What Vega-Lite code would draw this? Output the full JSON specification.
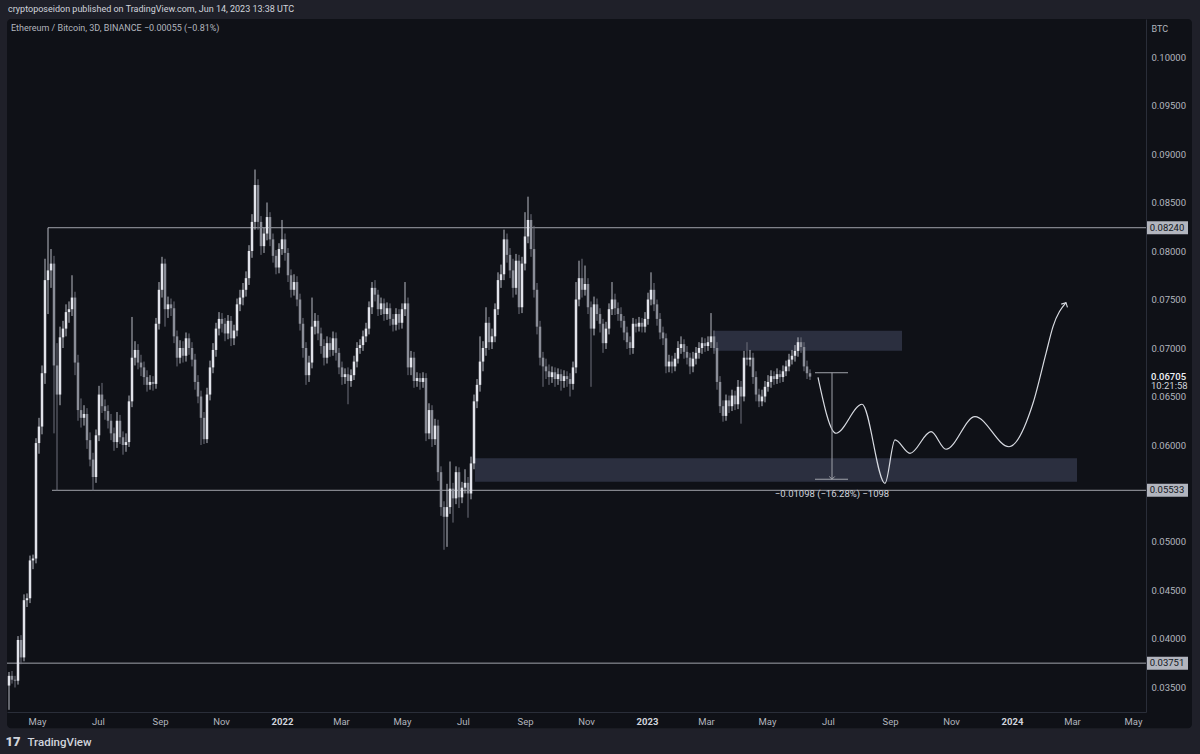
{
"$schema": "https://vega.github.io/schema/vega-lite/v6.json",
"width": 1139,
"height": 693,
"autosize": {"type": "none"},
"padding": {"left": 7, "top": 19, "right": 54, "bottom": 42},
"background": "#1f2029",
"config": {
  "font": "Roboto",
  "view": {"stroke": null},
  "axis": {"grid": false, "ticks": false, "domainColor": "#2a2e39", "domainWidth": 1, "labelColor": "#b2b5be", "labelFontSize": 9.5, "labelFont": "Roboto", "zindex": 1}
},
"title": {
  "text": "cryptoposeidon published on TradingView.com, Jun 14, 2023 13:38 UTC",
  "anchor": "start", "frame": "group", "offset": 5, "dx": 1,
  "fontSize": 9, "fontWeight": "normal", "color": "#d1d4dc"
},
"datasets": {
  "candles": [
{"d":"2021-04-03","o":0.0352,"h":0.0366,"l":0.0327,"c":0.0362},
{"d":"2021-04-06","o":0.0362,"h":0.0367,"l":0.0354,"c":0.0358},
{"d":"2021-04-09","o":0.0358,"h":0.0362,"l":0.0350,"c":0.0357},
{"d":"2021-04-12","o":0.0357,"h":0.0403,"l":0.0353,"c":0.0399},
{"d":"2021-04-15","o":0.0399,"h":0.0404,"l":0.0374,"c":0.0381},
{"d":"2021-04-18","o":0.0381,"h":0.0446,"l":0.0377,"c":0.0440},
{"d":"2021-04-21","o":0.0440,"h":0.0447,"l":0.0433,"c":0.0442},
{"d":"2021-04-24","o":0.0442,"h":0.0486,"l":0.0437,"c":0.0481},
{"d":"2021-04-27","o":0.0481,"h":0.0487,"l":0.0472,"c":0.0483},
{"d":"2021-04-30","o":0.0483,"h":0.0607,"l":0.0478,"c":0.0602},
{"d":"2021-05-03","o":0.0602,"h":0.0628,"l":0.0591,"c":0.0619},
{"d":"2021-05-06","o":0.0619,"h":0.0682,"l":0.0611,"c":0.0674},
{"d":"2021-05-09","o":0.0674,"h":0.0792,"l":0.0663,"c":0.0770},
{"d":"2021-05-12","o":0.0770,"h":0.0824,"l":0.0735,"c":0.0780},
{"d":"2021-05-15","o":0.0780,"h":0.0802,"l":0.0762,"c":0.0787},
{"d":"2021-05-18","o":0.0787,"h":0.0795,"l":0.0612,"c":0.0682},
{"d":"2021-05-21","o":0.0682,"h":0.0705,"l":0.0553,"c":0.0652},
{"d":"2021-05-24","o":0.0652,"h":0.0722,"l":0.0641,"c":0.0711},
{"d":"2021-05-27","o":0.0711,"h":0.0728,"l":0.0700,"c":0.0720},
{"d":"2021-05-30","o":0.0720,"h":0.0745,"l":0.0712,"c":0.0737},
{"d":"2021-06-02","o":0.0737,"h":0.0748,"l":0.0726,"c":0.0740},
{"d":"2021-06-05","o":0.0740,"h":0.0775,"l":0.0733,"c":0.0752},
{"d":"2021-06-08","o":0.0752,"h":0.0758,"l":0.0672,"c":0.0685},
{"d":"2021-06-11","o":0.0685,"h":0.0693,"l":0.0625,"c":0.0636},
{"d":"2021-06-14","o":0.0636,"h":0.0648,"l":0.0618,"c":0.0628},
{"d":"2021-06-17","o":0.0628,"h":0.0641,"l":0.0620,"c":0.0632},
{"d":"2021-06-20","o":0.0632,"h":0.0638,"l":0.0596,"c":0.0605},
{"d":"2021-06-23","o":0.0605,"h":0.0613,"l":0.0578,"c":0.0585},
{"d":"2021-06-26","o":0.0585,"h":0.0592,"l":0.0553,"c":0.0567},
{"d":"2021-06-29","o":0.0567,"h":0.0616,"l":0.0561,"c":0.0610},
{"d":"2021-07-02","o":0.0610,"h":0.0661,"l":0.0604,"c":0.0652},
{"d":"2021-07-05","o":0.0652,"h":0.0664,"l":0.0633,"c":0.0640},
{"d":"2021-07-08","o":0.0640,"h":0.0647,"l":0.0626,"c":0.0635},
{"d":"2021-07-11","o":0.0635,"h":0.0641,"l":0.0617,"c":0.0625},
{"d":"2021-07-14","o":0.0625,"h":0.0632,"l":0.0605,"c":0.0612},
{"d":"2021-07-17","o":0.0612,"h":0.0618,"l":0.0594,"c":0.0603},
{"d":"2021-07-20","o":0.0603,"h":0.0634,"l":0.0597,"c":0.0625},
{"d":"2021-07-23","o":0.0625,"h":0.0631,"l":0.0601,"c":0.0608},
{"d":"2021-07-26","o":0.0608,"h":0.0614,"l":0.0590,"c":0.0600},
{"d":"2021-07-29","o":0.0600,"h":0.0612,"l":0.0593,"c":0.0603},
{"d":"2021-08-01","o":0.0603,"h":0.0651,"l":0.0598,"c":0.0645},
{"d":"2021-08-04","o":0.0645,"h":0.0732,"l":0.0639,"c":0.0690},
{"d":"2021-08-07","o":0.0690,"h":0.0707,"l":0.0682,"c":0.0698},
{"d":"2021-08-10","o":0.0698,"h":0.0704,"l":0.0678,"c":0.0685},
{"d":"2021-08-13","o":0.0685,"h":0.0693,"l":0.0671,"c":0.0680},
{"d":"2021-08-16","o":0.0680,"h":0.0686,"l":0.0662,"c":0.0670},
{"d":"2021-08-19","o":0.0670,"h":0.0677,"l":0.0655,"c":0.0662},
{"d":"2021-08-22","o":0.0662,"h":0.0672,"l":0.0657,"c":0.0665},
{"d":"2021-08-25","o":0.0665,"h":0.0671,"l":0.0656,"c":0.0663},
{"d":"2021-08-28","o":0.0663,"h":0.0731,"l":0.0658,"c":0.0725},
{"d":"2021-08-31","o":0.0725,"h":0.0768,"l":0.0719,"c":0.0760},
{"d":"2021-09-03","o":0.0760,"h":0.0794,"l":0.0752,"c":0.0787},
{"d":"2021-09-06","o":0.0787,"h":0.0792,"l":0.0722,"c":0.0740},
{"d":"2021-09-09","o":0.0740,"h":0.0753,"l":0.0731,"c":0.0745},
{"d":"2021-09-12","o":0.0745,"h":0.0751,"l":0.0733,"c":0.0741},
{"d":"2021-09-15","o":0.0741,"h":0.0748,"l":0.0705,"c":0.0712},
{"d":"2021-09-18","o":0.0712,"h":0.0718,"l":0.0681,"c":0.0690},
{"d":"2021-09-21","o":0.0690,"h":0.0708,"l":0.0684,"c":0.0700},
{"d":"2021-09-24","o":0.0700,"h":0.0707,"l":0.0685,"c":0.0692},
{"d":"2021-09-27","o":0.0692,"h":0.0716,"l":0.0686,"c":0.0710},
{"d":"2021-09-30","o":0.0710,"h":0.0715,"l":0.0693,"c":0.0700},
{"d":"2021-10-03","o":0.0700,"h":0.0706,"l":0.0681,"c":0.0688},
{"d":"2021-10-06","o":0.0688,"h":0.0694,"l":0.0657,"c":0.0665},
{"d":"2021-10-09","o":0.0665,"h":0.0672,"l":0.0643,"c":0.0650},
{"d":"2021-10-12","o":0.0650,"h":0.0656,"l":0.0600,"c":0.0628},
{"d":"2021-10-15","o":0.0628,"h":0.0634,"l":0.0601,"c":0.0606},
{"d":"2021-10-18","o":0.0606,"h":0.0659,"l":0.0602,"c":0.0652},
{"d":"2021-10-21","o":0.0652,"h":0.0687,"l":0.0646,"c":0.0680},
{"d":"2021-10-24","o":0.0680,"h":0.0705,"l":0.0674,"c":0.0698},
{"d":"2021-10-27","o":0.0698,"h":0.0726,"l":0.0691,"c":0.0720},
{"d":"2021-10-30","o":0.0720,"h":0.0737,"l":0.0713,"c":0.0730},
{"d":"2021-11-02","o":0.0730,"h":0.0736,"l":0.0716,"c":0.0725},
{"d":"2021-11-05","o":0.0725,"h":0.0731,"l":0.0707,"c":0.0715},
{"d":"2021-11-08","o":0.0715,"h":0.0734,"l":0.0709,"c":0.0728},
{"d":"2021-11-11","o":0.0728,"h":0.0733,"l":0.0702,"c":0.0710},
{"d":"2021-11-14","o":0.0710,"h":0.0724,"l":0.0703,"c":0.0718},
{"d":"2021-11-17","o":0.0718,"h":0.0751,"l":0.0712,"c":0.0745},
{"d":"2021-11-20","o":0.0745,"h":0.0760,"l":0.0738,"c":0.0752},
{"d":"2021-11-23","o":0.0752,"h":0.0767,"l":0.0744,"c":0.0760},
{"d":"2021-11-26","o":0.0760,"h":0.0779,"l":0.0753,"c":0.0772},
{"d":"2021-11-29","o":0.0772,"h":0.0806,"l":0.0765,"c":0.0800},
{"d":"2021-12-02","o":0.0800,"h":0.0838,"l":0.0793,"c":0.0830},
{"d":"2021-12-05","o":0.0830,"h":0.0884,"l":0.0822,"c":0.0868},
{"d":"2021-12-08","o":0.0868,"h":0.0874,"l":0.0822,"c":0.0830},
{"d":"2021-12-11","o":0.0830,"h":0.0836,"l":0.0796,"c":0.0805},
{"d":"2021-12-14","o":0.0805,"h":0.0824,"l":0.0798,"c":0.0818},
{"d":"2021-12-17","o":0.0818,"h":0.0850,"l":0.0811,"c":0.0835},
{"d":"2021-12-20","o":0.0835,"h":0.0840,"l":0.0805,"c":0.0812},
{"d":"2021-12-23","o":0.0812,"h":0.0818,"l":0.0788,"c":0.0795},
{"d":"2021-12-26","o":0.0795,"h":0.0801,"l":0.0776,"c":0.0783},
{"d":"2021-12-29","o":0.0783,"h":0.0808,"l":0.0777,"c":0.0802},
{"d":"2022-01-01","o":0.0802,"h":0.0832,"l":0.0796,"c":0.0812},
{"d":"2022-01-04","o":0.0812,"h":0.0818,"l":0.0790,"c":0.0798},
{"d":"2022-01-07","o":0.0798,"h":0.0803,"l":0.0768,"c":0.0775},
{"d":"2022-01-10","o":0.0775,"h":0.0781,"l":0.0752,"c":0.0760},
{"d":"2022-01-13","o":0.0760,"h":0.0776,"l":0.0754,"c":0.0768},
{"d":"2022-01-16","o":0.0768,"h":0.0774,"l":0.0743,"c":0.0750},
{"d":"2022-01-19","o":0.0750,"h":0.0756,"l":0.0718,"c":0.0725},
{"d":"2022-01-22","o":0.0725,"h":0.0731,"l":0.0690,"c":0.0700},
{"d":"2022-01-25","o":0.0700,"h":0.0706,"l":0.0662,"c":0.0672},
{"d":"2022-01-28","o":0.0672,"h":0.0692,"l":0.0665,"c":0.0685},
{"d":"2022-01-31","o":0.0685,"h":0.0752,"l":0.0679,"c":0.0722},
{"d":"2022-02-03","o":0.0722,"h":0.0736,"l":0.0714,"c":0.0728},
{"d":"2022-02-06","o":0.0728,"h":0.0734,"l":0.0708,"c":0.0715},
{"d":"2022-02-09","o":0.0715,"h":0.0721,"l":0.0694,"c":0.0702},
{"d":"2022-02-12","o":0.0702,"h":0.0709,"l":0.0682,"c":0.0690},
{"d":"2022-02-15","o":0.0690,"h":0.0712,"l":0.0684,"c":0.0705},
{"d":"2022-02-18","o":0.0705,"h":0.0711,"l":0.0691,"c":0.0698},
{"d":"2022-02-21","o":0.0698,"h":0.0717,"l":0.0692,"c":0.0710},
{"d":"2022-02-24","o":0.0710,"h":0.0716,"l":0.0687,"c":0.0695},
{"d":"2022-02-27","o":0.0695,"h":0.0700,"l":0.0673,"c":0.0680},
{"d":"2022-03-02","o":0.0680,"h":0.0686,"l":0.0662,"c":0.0670},
{"d":"2022-03-05","o":0.0670,"h":0.0679,"l":0.0663,"c":0.0673},
{"d":"2022-03-08","o":0.0673,"h":0.0680,"l":0.0642,"c":0.0666},
{"d":"2022-03-11","o":0.0666,"h":0.0678,"l":0.0660,"c":0.0672},
{"d":"2022-03-14","o":0.0672,"h":0.0692,"l":0.0667,"c":0.0686},
{"d":"2022-03-17","o":0.0686,"h":0.0706,"l":0.0680,"c":0.0700},
{"d":"2022-03-20","o":0.0700,"h":0.0709,"l":0.0694,"c":0.0703},
{"d":"2022-03-23","o":0.0703,"h":0.0718,"l":0.0697,"c":0.0712},
{"d":"2022-03-26","o":0.0712,"h":0.0726,"l":0.0706,"c":0.0720},
{"d":"2022-03-29","o":0.0720,"h":0.0748,"l":0.0714,"c":0.0742},
{"d":"2022-04-01","o":0.0742,"h":0.0768,"l":0.0735,"c":0.0762},
{"d":"2022-04-04","o":0.0762,"h":0.0770,"l":0.0748,"c":0.0755},
{"d":"2022-04-07","o":0.0755,"h":0.0760,"l":0.0733,"c":0.0740},
{"d":"2022-04-10","o":0.0740,"h":0.0752,"l":0.0734,"c":0.0746},
{"d":"2022-04-13","o":0.0746,"h":0.0751,"l":0.0728,"c":0.0735},
{"d":"2022-04-16","o":0.0735,"h":0.0747,"l":0.0729,"c":0.0741},
{"d":"2022-04-19","o":0.0741,"h":0.0746,"l":0.0723,"c":0.0730},
{"d":"2022-04-22","o":0.0730,"h":0.0735,"l":0.0717,"c":0.0724},
{"d":"2022-04-25","o":0.0724,"h":0.0741,"l":0.0718,"c":0.0735},
{"d":"2022-04-28","o":0.0735,"h":0.0740,"l":0.0719,"c":0.0726},
{"d":"2022-05-01","o":0.0726,"h":0.0746,"l":0.0720,"c":0.0740},
{"d":"2022-05-04","o":0.0740,"h":0.0768,"l":0.0733,"c":0.0746},
{"d":"2022-05-07","o":0.0746,"h":0.0752,"l":0.0672,"c":0.0680},
{"d":"2022-05-10","o":0.0680,"h":0.0697,"l":0.0672,"c":0.0690},
{"d":"2022-05-13","o":0.0690,"h":0.0696,"l":0.0659,"c":0.0666},
{"d":"2022-05-16","o":0.0666,"h":0.0675,"l":0.0660,"c":0.0669},
{"d":"2022-05-19","o":0.0669,"h":0.0674,"l":0.0657,"c":0.0665},
{"d":"2022-05-22","o":0.0665,"h":0.0675,"l":0.0659,"c":0.0669},
{"d":"2022-05-25","o":0.0669,"h":0.0674,"l":0.0604,"c":0.0612},
{"d":"2022-05-28","o":0.0612,"h":0.0643,"l":0.0606,"c":0.0636},
{"d":"2022-05-31","o":0.0636,"h":0.0641,"l":0.0598,"c":0.0606},
{"d":"2022-06-03","o":0.0606,"h":0.0627,"l":0.0600,"c":0.0620},
{"d":"2022-06-06","o":0.0620,"h":0.0626,"l":0.0563,"c":0.0572},
{"d":"2022-06-09","o":0.0572,"h":0.0578,"l":0.0527,"c":0.0536},
{"d":"2022-06-12","o":0.0536,"h":0.0542,"l":0.0492,"c":0.0526},
{"d":"2022-06-15","o":0.0526,"h":0.0560,"l":0.0495,"c":0.0536},
{"d":"2022-06-18","o":0.0536,"h":0.0583,"l":0.0529,"c":0.0555},
{"d":"2022-06-21","o":0.0555,"h":0.0561,"l":0.0520,"c":0.0545},
{"d":"2022-06-24","o":0.0545,"h":0.0578,"l":0.0539,"c":0.0572},
{"d":"2022-06-27","o":0.0572,"h":0.0577,"l":0.0535,"c":0.0546},
{"d":"2022-06-30","o":0.0546,"h":0.0562,"l":0.0540,"c":0.0556},
{"d":"2022-07-03","o":0.0556,"h":0.0575,"l":0.0550,"c":0.0561},
{"d":"2022-07-06","o":0.0561,"h":0.0567,"l":0.0525,"c":0.0550},
{"d":"2022-07-09","o":0.0550,"h":0.0588,"l":0.0544,"c":0.0581},
{"d":"2022-07-12","o":0.0581,"h":0.0652,"l":0.0575,"c":0.0645},
{"d":"2022-07-15","o":0.0645,"h":0.0668,"l":0.0638,"c":0.0662},
{"d":"2022-07-18","o":0.0662,"h":0.0712,"l":0.0655,"c":0.0686},
{"d":"2022-07-21","o":0.0686,"h":0.0707,"l":0.0676,"c":0.0700},
{"d":"2022-07-24","o":0.0700,"h":0.0742,"l":0.0692,"c":0.0726},
{"d":"2022-07-27","o":0.0726,"h":0.0732,"l":0.0698,"c":0.0706},
{"d":"2022-07-30","o":0.0706,"h":0.0720,"l":0.0699,"c":0.0712},
{"d":"2022-08-02","o":0.0712,"h":0.0746,"l":0.0706,"c":0.0740},
{"d":"2022-08-05","o":0.0740,"h":0.0778,"l":0.0734,"c":0.0770},
{"d":"2022-08-08","o":0.0770,"h":0.0786,"l":0.0762,"c":0.0776},
{"d":"2022-08-11","o":0.0776,"h":0.0822,"l":0.0770,"c":0.0812},
{"d":"2022-08-14","o":0.0812,"h":0.0818,"l":0.0788,"c":0.0796},
{"d":"2022-08-17","o":0.0796,"h":0.0803,"l":0.0772,"c":0.0780},
{"d":"2022-08-20","o":0.0780,"h":0.0792,"l":0.0752,"c":0.0762},
{"d":"2022-08-23","o":0.0762,"h":0.0797,"l":0.0755,"c":0.0790},
{"d":"2022-08-26","o":0.0790,"h":0.0796,"l":0.0735,"c":0.0742},
{"d":"2022-08-29","o":0.0742,"h":0.0794,"l":0.0736,"c":0.0787},
{"d":"2022-09-01","o":0.0787,"h":0.0840,"l":0.0780,"c":0.0815},
{"d":"2022-09-04","o":0.0815,"h":0.0856,"l":0.0808,"c":0.0832},
{"d":"2022-09-07","o":0.0832,"h":0.0838,"l":0.0794,"c":0.0802},
{"d":"2022-09-10","o":0.0802,"h":0.0826,"l":0.0752,"c":0.0760},
{"d":"2022-09-13","o":0.0760,"h":0.0767,"l":0.0714,"c":0.0722},
{"d":"2022-09-16","o":0.0722,"h":0.0728,"l":0.0682,"c":0.0690},
{"d":"2022-09-19","o":0.0690,"h":0.0696,"l":0.0660,"c":0.0681},
{"d":"2022-09-22","o":0.0681,"h":0.0689,"l":0.0668,"c":0.0676},
{"d":"2022-09-25","o":0.0676,"h":0.0683,"l":0.0662,"c":0.0670},
{"d":"2022-09-28","o":0.0670,"h":0.0681,"l":0.0664,"c":0.0675},
{"d":"2022-10-01","o":0.0675,"h":0.0680,"l":0.0660,"c":0.0668},
{"d":"2022-10-04","o":0.0668,"h":0.0679,"l":0.0662,"c":0.0673},
{"d":"2022-10-07","o":0.0673,"h":0.0678,"l":0.0656,"c":0.0666},
{"d":"2022-10-10","o":0.0666,"h":0.0677,"l":0.0659,"c":0.0671},
{"d":"2022-10-13","o":0.0671,"h":0.0676,"l":0.0660,"c":0.0668},
{"d":"2022-10-16","o":0.0668,"h":0.0674,"l":0.0650,"c":0.0663},
{"d":"2022-10-19","o":0.0663,"h":0.0686,"l":0.0657,"c":0.0680},
{"d":"2022-10-22","o":0.0680,"h":0.0768,"l":0.0674,"c":0.0750},
{"d":"2022-10-25","o":0.0750,"h":0.0790,"l":0.0743,"c":0.0772},
{"d":"2022-10-28","o":0.0772,"h":0.0792,"l":0.0752,"c":0.0760},
{"d":"2022-10-31","o":0.0760,"h":0.0785,"l":0.0754,"c":0.0766},
{"d":"2022-11-03","o":0.0766,"h":0.0772,"l":0.0735,"c":0.0742},
{"d":"2022-11-06","o":0.0742,"h":0.0748,"l":0.0660,"c":0.0720},
{"d":"2022-11-09","o":0.0720,"h":0.0753,"l":0.0713,"c":0.0745},
{"d":"2022-11-12","o":0.0745,"h":0.0751,"l":0.0728,"c":0.0735},
{"d":"2022-11-15","o":0.0735,"h":0.0741,"l":0.0716,"c":0.0725},
{"d":"2022-11-18","o":0.0725,"h":0.0730,"l":0.0695,"c":0.0705},
{"d":"2022-11-21","o":0.0705,"h":0.0727,"l":0.0699,"c":0.0720},
{"d":"2022-11-24","o":0.0720,"h":0.0746,"l":0.0714,"c":0.0740},
{"d":"2022-11-27","o":0.0740,"h":0.0768,"l":0.0734,"c":0.0750},
{"d":"2022-11-30","o":0.0750,"h":0.0756,"l":0.0734,"c":0.0741},
{"d":"2022-12-03","o":0.0741,"h":0.0747,"l":0.0728,"c":0.0735},
{"d":"2022-12-06","o":0.0735,"h":0.0742,"l":0.0721,"c":0.0728},
{"d":"2022-12-09","o":0.0728,"h":0.0733,"l":0.0708,"c":0.0716},
{"d":"2022-12-12","o":0.0716,"h":0.0722,"l":0.0699,"c":0.0706},
{"d":"2022-12-15","o":0.0706,"h":0.0712,"l":0.0693,"c":0.0700},
{"d":"2022-12-18","o":0.0700,"h":0.0731,"l":0.0694,"c":0.0725},
{"d":"2022-12-21","o":0.0725,"h":0.0730,"l":0.0716,"c":0.0722},
{"d":"2022-12-24","o":0.0722,"h":0.0732,"l":0.0717,"c":0.0726},
{"d":"2022-12-27","o":0.0726,"h":0.0731,"l":0.0716,"c":0.0722},
{"d":"2022-12-30","o":0.0722,"h":0.0737,"l":0.0716,"c":0.0730},
{"d":"2023-01-02","o":0.0730,"h":0.0757,"l":0.0724,"c":0.0750},
{"d":"2023-01-05","o":0.0750,"h":0.0778,"l":0.0744,"c":0.0760},
{"d":"2023-01-08","o":0.0760,"h":0.0767,"l":0.0738,"c":0.0745},
{"d":"2023-01-11","o":0.0745,"h":0.0750,"l":0.0723,"c":0.0730},
{"d":"2023-01-14","o":0.0730,"h":0.0736,"l":0.0709,"c":0.0716},
{"d":"2023-01-17","o":0.0716,"h":0.0722,"l":0.0703,"c":0.0710},
{"d":"2023-01-20","o":0.0710,"h":0.0715,"l":0.0674,"c":0.0681},
{"d":"2023-01-23","o":0.0681,"h":0.0693,"l":0.0675,"c":0.0686},
{"d":"2023-01-26","o":0.0686,"h":0.0692,"l":0.0674,"c":0.0681},
{"d":"2023-01-29","o":0.0681,"h":0.0695,"l":0.0676,"c":0.0689},
{"d":"2023-02-01","o":0.0689,"h":0.0707,"l":0.0684,"c":0.0700},
{"d":"2023-02-04","o":0.0700,"h":0.0712,"l":0.0694,"c":0.0704},
{"d":"2023-02-07","o":0.0704,"h":0.0709,"l":0.0689,"c":0.0696},
{"d":"2023-02-10","o":0.0696,"h":0.0702,"l":0.0683,"c":0.0690},
{"d":"2023-02-13","o":0.0690,"h":0.0695,"l":0.0673,"c":0.0681},
{"d":"2023-02-16","o":0.0681,"h":0.0696,"l":0.0675,"c":0.0689},
{"d":"2023-02-19","o":0.0689,"h":0.0701,"l":0.0683,"c":0.0695},
{"d":"2023-02-22","o":0.0695,"h":0.0706,"l":0.0689,"c":0.0700},
{"d":"2023-02-25","o":0.0700,"h":0.0711,"l":0.0694,"c":0.0705},
{"d":"2023-02-28","o":0.0705,"h":0.0710,"l":0.0696,"c":0.0702},
{"d":"2023-03-03","o":0.0702,"h":0.0712,"l":0.0697,"c":0.0706},
{"d":"2023-03-06","o":0.0706,"h":0.0736,"l":0.0700,"c":0.0712},
{"d":"2023-03-09","o":0.0712,"h":0.0718,"l":0.0694,"c":0.0700},
{"d":"2023-03-12","o":0.0700,"h":0.0706,"l":0.0657,"c":0.0665},
{"d":"2023-03-15","o":0.0665,"h":0.0671,"l":0.0633,"c":0.0640},
{"d":"2023-03-18","o":0.0640,"h":0.0646,"l":0.0624,"c":0.0630},
{"d":"2023-03-21","o":0.0630,"h":0.0652,"l":0.0625,"c":0.0646},
{"d":"2023-03-24","o":0.0646,"h":0.0651,"l":0.0633,"c":0.0640},
{"d":"2023-03-27","o":0.0640,"h":0.0657,"l":0.0635,"c":0.0651},
{"d":"2023-03-30","o":0.0651,"h":0.0656,"l":0.0636,"c":0.0642},
{"d":"2023-04-02","o":0.0642,"h":0.0667,"l":0.0637,"c":0.0660},
{"d":"2023-04-05","o":0.0660,"h":0.0666,"l":0.0622,"c":0.0650},
{"d":"2023-04-08","o":0.0650,"h":0.0697,"l":0.0645,"c":0.0690},
{"d":"2023-04-11","o":0.0690,"h":0.0706,"l":0.0682,"c":0.0688},
{"d":"2023-04-14","o":0.0688,"h":0.0698,"l":0.0681,"c":0.0690},
{"d":"2023-04-17","o":0.0690,"h":0.0695,"l":0.0663,"c":0.0670},
{"d":"2023-04-20","o":0.0670,"h":0.0676,"l":0.0645,"c":0.0652},
{"d":"2023-04-23","o":0.0652,"h":0.0658,"l":0.0639,"c":0.0645},
{"d":"2023-04-26","o":0.0645,"h":0.0657,"l":0.0640,"c":0.0650},
{"d":"2023-04-29","o":0.0650,"h":0.0666,"l":0.0644,"c":0.0660},
{"d":"2023-05-02","o":0.0660,"h":0.0672,"l":0.0655,"c":0.0665},
{"d":"2023-05-05","o":0.0665,"h":0.0677,"l":0.0659,"c":0.0671},
{"d":"2023-05-08","o":0.0671,"h":0.0676,"l":0.0662,"c":0.0668},
{"d":"2023-05-11","o":0.0668,"h":0.0679,"l":0.0663,"c":0.0673},
{"d":"2023-05-14","o":0.0673,"h":0.0677,"l":0.0664,"c":0.0670},
{"d":"2023-05-17","o":0.0670,"h":0.0682,"l":0.0665,"c":0.0676},
{"d":"2023-05-20","o":0.0676,"h":0.0687,"l":0.0671,"c":0.0681},
{"d":"2023-05-23","o":0.0681,"h":0.0694,"l":0.0676,"c":0.0688},
{"d":"2023-05-26","o":0.0688,"h":0.0698,"l":0.0683,"c":0.0692},
{"d":"2023-05-29","o":0.0692,"h":0.0703,"l":0.0686,"c":0.0697},
{"d":"2023-06-01","o":0.0697,"h":0.0711,"l":0.0691,"c":0.0706},
{"d":"2023-06-04","o":0.0706,"h":0.0711,"l":0.0695,"c":0.0701},
{"d":"2023-06-07","o":0.0701,"h":0.0706,"l":0.0676,"c":0.0681},
{"d":"2023-06-10","o":0.0681,"h":0.0687,"l":0.0668,"c":0.0674},
{"d":"2023-06-13","o":0.0674,"h":0.0678,"l":0.0667,"c":0.06705}
  ],
  "zones": [
    {"start":"2023-03-08","end":"2023-09-13","lo":0.06972,"hi":0.07178},
    {"start":"2022-07-13","end":"2024-03-06","lo":0.05622,"hi":0.05863}
  ],
  "levels": [
    {"start":"2021-05-12","level":0.0824,"label":"0.08240"},
    {"start":"2021-05-16","level":0.05533,"label":"0.05533"},
    {"start":"2021-04-01","level":0.03751,"label":"0.03751"}
  ],
  "curve": [
    {"d":"2023-06-21","p":0.06698},
    {"d":"2023-07-09","p":0.06121},
    {"d":"2023-08-04","p":0.0642},
    {"d":"2023-08-27","p":0.05605},
    {"d":"2023-09-06","p":0.06052},
    {"d":"2023-09-21","p":0.05914},
    {"d":"2023-10-12","p":0.06137},
    {"d":"2023-10-27","p":0.05956},
    {"d":"2023-11-25","p":0.06292},
    {"d":"2023-12-29","p":0.05982},
    {"d":"2024-01-22","p":0.0643},
    {"d":"2024-02-04","p":0.06945},
    {"d":"2024-02-11","p":0.0722},
    {"d":"2024-02-24","p":0.07467}
  ],
  "curveEnd": [{"d":"2024-02-24","p":0.07467}],
  "measure": [
    {"d":"2023-07-05","capL":"2023-06-18","capR":"2023-07-21","top":0.06745,"bot":0.05647,"txt":"−0.01098 (−16.28%) −1098"}
  ],
  "last": [{"p":0.06705,"price":"0.06705","countdown":"10:21:58"}],
  "legend": [{"d":"2021-04-05","p":0.10299,"txt":"Ethereum / Bitcoin, 3D, BINANCE  −0.00055 (−0.81%)"}]
},
"layer": [
  {
    "data": {"values": [{}]},
    "mark": {"type": "rect", "fill": "#0f1117", "cornerRadius": 4, "clip": false},
    "encoding": {
      "x": {"datum": {"year": 2021, "month": 4, "date": 1}, "type": "temporal",
        "scale": {"domain": [{"year": 2021, "month": 4, "date": 1}, {"year": 2024, "month": 5, "date": 14}], "padding": 0},
        "axis": {"title": "TradingView", "zindex": 1, "tickCount": {"interval": "month", "step": 2}, "labelPadding": 4, "labelFlush": false, "labelOverlap": false,
          "labelExpr": "month(datum.value) == 0 ? timeFormat(datum.value, '%Y') : timeFormat(datum.value, '%b')",
          "labelFontWeight": {"condition": {"test": "month(datum.value) == 0", "value": "bold"}, "value": "normal"},
          "labelColor": {"condition": {"test": "month(datum.value) == 0", "value": "#d1d4dc"}, "value": "#b2b5be"},
          "titleX": 20, "titleY": 30, "titleAlign": "left", "titleBaseline": "middle", "titleFontSize": 11.5, "titleFontWeight": 500, "titleColor": "#d1d4dc"}},
      "x2": {"datum": {"year": 2024, "month": 6, "date": 29}},
      "y": {"datum": 0.0308, "type": "quantitative",
        "scale": {"domain": [0.032474, 0.103918], "nice": false, "zero": false, "padding": 0},
        "axis": {"title": "BTC", "zindex": 1, "orient": "right", "values": [0.035, 0.04, 0.045, 0.05, 0.06, 0.065, 0.07, 0.075, 0.08, 0.085, 0.09, 0.095, 0.1],
          "format": ".5f", "labelPadding": 5, "labelAlign": "left", "labelBaseline": "middle",
          "titleAngle": 0, "titleX": 5, "titleY": 9, "titleAlign": "left", "titleBaseline": "middle", "titleFontSize": 9, "titleFontWeight": "normal", "titleColor": "#b2b5be"}},
      "y2": {"datum": 0.10392}
    }
  },
  {
    "data": {"name": "legend"},
    "mark": {"type": "text", "fontSize": 9, "color": "#b2b5be", "align": "left", "baseline": "middle"},
    "encoding": {
      "x": {"field": "d", "type": "temporal"},
      "y": {"field": "p", "type": "quantitative"},
      "text": {"field": "txt"}
    }
  },
  {
    "data": {"name": "zones"},
    "mark": {"type": "rect", "fill": "#787fa8", "opacity": 0.28},
    "encoding": {
      "x": {"field": "start", "type": "temporal"},
      "x2": {"field": "end"},
      "y": {"field": "lo", "type": "quantitative"},
      "y2": {"field": "hi"}
    }
  },
  {
    "data": {"name": "levels"},
    "mark": {"type": "rule", "stroke": "#a0a3ab", "strokeWidth": 1, "opacity": 1},
    "encoding": {
      "x": {"field": "start", "type": "temporal"},
      "x2": {"datum": {"year": 2024, "month": 5, "date": 14}},
      "y": {"field": "level", "type": "quantitative"}
    }
  },
  {
    "data": {"name": "candles"},
    "mark": {"type": "rule", "strokeWidth": 1, "opacity": 1},
    "encoding": {
      "x": {"field": "d", "type": "temporal"},
      "y": {"field": "l", "type": "quantitative"},
      "y2": {"field": "h"},
      "color": {"condition": {"test": "datum.c >= datum.o", "value": "#b8bbc4"}, "value": "#6e717c"}
    }
  },
  {
    "data": {"name": "candles"},
    "mark": {"type": "bar", "width": 2.5, "opacity": 1},
    "encoding": {
      "x": {"field": "d", "type": "temporal"},
      "y": {"field": "o", "type": "quantitative"},
      "y2": {"field": "c"},
      "color": {"condition": {"test": "datum.c >= datum.o", "value": "#e1e3ea"}, "value": "#8a8d97"}
    }
  },
  {
    "data": {"name": "curve"},
    "mark": {"type": "line", "interpolate": "monotone", "stroke": "#d8dbe2", "strokeWidth": 1.2},
    "encoding": {
      "x": {"field": "d", "type": "temporal"},
      "y": {"field": "p", "type": "quantitative"}
    }
  },
  {
    "data": {"name": "curveEnd"},
    "mark": {"type": "point", "shape": "M-1,1L0,0L1,1", "size": 49, "angle": 28, "filled": false, "stroke": "#d8dbe2", "strokeWidth": 1.1, "opacity": 1},
    "encoding": {
      "x": {"field": "d", "type": "temporal"},
      "y": {"field": "p", "type": "quantitative"}
    }
  },
  {
    "data": {"name": "measure"},
    "mark": {"type": "rule", "stroke": "#a0a3ab", "strokeWidth": 1},
    "encoding": {
      "x": {"field": "d", "type": "temporal"},
      "y": {"field": "bot", "type": "quantitative"},
      "y2": {"field": "top"}
    }
  },
  {
    "data": {"name": "measure"},
    "mark": {"type": "rule", "stroke": "#a0a3ab", "strokeWidth": 1},
    "encoding": {
      "x": {"field": "capL", "type": "temporal"},
      "x2": {"field": "capR"},
      "y": {"field": "top", "type": "quantitative"}
    }
  },
  {
    "data": {"name": "measure"},
    "mark": {"type": "rule", "stroke": "#a0a3ab", "strokeWidth": 1},
    "encoding": {
      "x": {"field": "capL", "type": "temporal"},
      "x2": {"field": "capR"},
      "y": {"field": "bot", "type": "quantitative"}
    }
  },
  {
    "data": {"name": "measure"},
    "mark": {"type": "point", "shape": "M-1,-1L0,0L1,-1", "size": 30, "filled": false, "stroke": "#a0a3ab", "strokeWidth": 1, "opacity": 1},
    "encoding": {
      "x": {"field": "d", "type": "temporal"},
      "y": {"field": "bot", "type": "quantitative"}
    }
  },
  {
    "data": {"name": "measure"},
    "mark": {"type": "text", "dy": 15, "fontSize": 9.5, "color": "#d1d4dc", "align": "center", "baseline": "middle"},
    "encoding": {
      "x": {"field": "d", "type": "temporal"},
      "y": {"field": "bot", "type": "quantitative"},
      "text": {"field": "txt"}
    }
  },
  {
    "data": {"name": "levels"},
    "mark": {"type": "tick", "orient": "horizontal", "size": 42, "thickness": 13, "color": "#b2b5be", "opacity": 1, "clip": false},
    "encoding": {
      "x": {"datum": {"year": 2024, "month": 6, "date": 4}, "type": "temporal"},
      "y": {"field": "level", "type": "quantitative"}
    }
  },
  {
    "data": {"name": "levels"},
    "mark": {"type": "text", "fontSize": 9.5, "color": "#131722", "align": "center", "baseline": "middle", "clip": false},
    "encoding": {
      "x": {"datum": {"year": 2024, "month": 6, "date": 4}, "type": "temporal"},
      "y": {"field": "level", "type": "quantitative"},
      "text": {"field": "label"}
    }
  },
  {
    "data": {"name": "last"},
    "mark": {"type": "text", "fontSize": 9.5, "fontWeight": 500, "color": "#f0f2f7", "align": "left", "baseline": "middle", "clip": false},
    "encoding": {
      "x": {"datum": {"year": 2024, "month": 5, "date": 19}, "type": "temporal"},
      "y": {"field": "p", "type": "quantitative"},
      "text": {"field": "price"}
    }
  },
  {
    "data": {"name": "last"},
    "mark": {"type": "text", "fontSize": 9.5, "dy": 9, "color": "#d1d4dc", "align": "left", "baseline": "middle", "clip": false},
    "encoding": {
      "x": {"datum": {"year": 2024, "month": 5, "date": 19}, "type": "temporal"},
      "y": {"field": "p", "type": "quantitative"},
      "text": {"field": "countdown"}
    }
  },
  {
    "data": {"values": [{}]},
    "mark": {"type": "text", "text": "17", "fontSize": 13, "fontWeight": 900, "color": "#d1d4dc", "align": "center", "baseline": "middle", "clip": false},
    "encoding": {
      "x": {"datum": {"year": 2021, "month": 4, "date": 7}, "type": "temporal"},
      "y": {"datum": 0.02938, "type": "quantitative"}
    }
  }
]
}
